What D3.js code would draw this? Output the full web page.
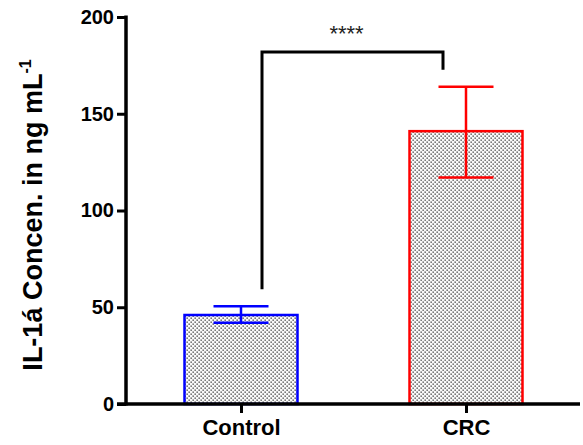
<!DOCTYPE html>
<html>
<head>
<meta charset="utf-8">
<script src="https://cdn.jsdelivr.net/npm/d3@7"></script>
<style>
  body { margin: 0; background: #fff; }
  svg { display: block; font-family: "Liberation Sans", Arial, sans-serif; }
</style>
</head>
<body>
<svg></svg>
<script>
// chart data
const groups = ["Control", "CRC"];
const means = [46, 141];
const errLow = [42, 117];
const errHigh = [50.5, 164];
const barColors = ["#0000ff", "#ff0000"];
const yTicks = [0, 50, 100, 150, 200];
const sigLabel = "****";

const W = 583, H = 445;
const margin = { top: 17, right: 3, bottom: 41, left: 126 };
const w = W - margin.left - margin.right;
const h = 404 - margin.top;

const svg = d3.select("svg")
    .attr("width", W)
    .attr("height", H);

// dotted fill
const defs = svg.append("defs");
const pat = defs.append("pattern")
    .attr("id", "dots")
    .attr("patternUnits", "userSpaceOnUse")
    .attr("width", 4)
    .attr("height", 4);
pat.append("rect").attr("width", 4).attr("height", 4).attr("fill", "#fafafa");
pat.append("rect").attr("x", 0.5).attr("y", 0.5).attr("width", 1.3).attr("height", 1.3).attr("fill", "#333");
pat.append("rect").attr("x", 2.5).attr("y", 2.5).attr("width", 1.3).attr("height", 1.3).attr("fill", "#333");

const chart = svg.append("g")
    .attr("transform", `translate(${margin.left},${margin.top})`);

const y = d3.scaleLinear().domain([0, 200]).range([h, 0]);
// group centres
const xc = d3.scalePoint().domain(groups).range([115, 340]);
const barW = 113;
const capW = 55;

// bars
chart.selectAll(".bar")
    .data(groups)
    .enter().append("rect")
    .attr("class", "bar")
    .attr("x", d => xc(d) - barW / 2)
    .attr("y", (d, i) => y(means[i]))
    .attr("width", barW)
    .attr("height", (d, i) => h - y(means[i]))
    .attr("fill", "url(#dots)")
    .attr("stroke", (d, i) => barColors[i])
    .attr("stroke-width", 2.5);

// error bars
groups.forEach((g, i) => {
    const cx = xc(g);
    const eg = chart.append("g")
        .attr("stroke", barColors[i])
        .attr("stroke-width", 2.5);
    eg.append("line").attr("x1", cx).attr("x2", cx)
        .attr("y1", y(errHigh[i])).attr("y2", y(errLow[i]));
    eg.append("line").attr("x1", cx - capW / 2).attr("x2", cx + capW / 2)
        .attr("y1", y(errHigh[i])).attr("y2", y(errHigh[i]));
    eg.append("line").attr("x1", cx - capW / 2).attr("x2", cx + capW / 2)
        .attr("y1", y(errLow[i])).attr("y2", y(errLow[i]));
});

// y axis
const yAxis = d3.axisLeft(y).tickValues(yTicks).tickSize(9).tickSizeOuter(0).tickPadding(3);
const yAxisGroup = chart.append("g").call(yAxis);
yAxisGroup.select(".domain").attr("stroke", "#000").attr("stroke-width", 3.5)
    .attr("d", `M0,${h + 1.5}V-1.5`);
yAxisGroup.selectAll(".tick line").attr("stroke-width", 3);
yAxisGroup.selectAll(".tick text")
    .attr("font-size", 20).attr("font-weight", "bold").attr("fill", "#000")
    .attr("font-family", "Liberation Sans, Arial, sans-serif");

// x axis
const xAxis = d3.axisBottom(xc).tickSize(9).tickSizeOuter(0).tickPadding(6);
const xAxisGroup = chart.append("g")
    .attr("transform", `translate(0,${h})`)
    .call(xAxis);
xAxisGroup.select(".domain").attr("stroke", "#000").attr("stroke-width", 3.5)
    .attr("d", `M-9,0H${w}`);
xAxisGroup.selectAll(".tick line").attr("stroke-width", 3);
xAxisGroup.selectAll(".tick text")
    .attr("font-size", 22).attr("font-weight", "bold").attr("fill", "#000")
    .attr("font-family", "Liberation Sans, Arial, sans-serif");

// significance bracket
const bx1 = xc(groups[0]) + 21, bx2 = xc(groups[1]) - 23;
const bTop = 52 - margin.top;
chart.append("path")
    .attr("d", `M${bx1},${y(errHigh[0]) - 17}V${bTop}H${bx2}V${y(errHigh[1]) - 17}`)
    .attr("fill", "none")
    .attr("stroke", "#000")
    .attr("stroke-width", 3);
chart.append("text")
    .attr("x", (bx1 + bx2) / 2 - 6)
    .attr("y", bTop - 11)
    .attr("text-anchor", "middle")
    .attr("font-size", 22)
    .attr("fill", "#222")
    .text(sigLabel);

// y axis title
const yt = svg.append("text")
    .attr("transform", `translate(42,215) rotate(-90)`)
    .attr("text-anchor", "middle")
    .attr("font-size", 27)
    .attr("font-weight", "bold")
    .attr("fill", "#000");
yt.append("tspan").text("IL-1á Concen. in ng mL");
yt.append("tspan").attr("dy", -11).attr("font-size", 16).text("-1");
</script>
</body>
</html>
